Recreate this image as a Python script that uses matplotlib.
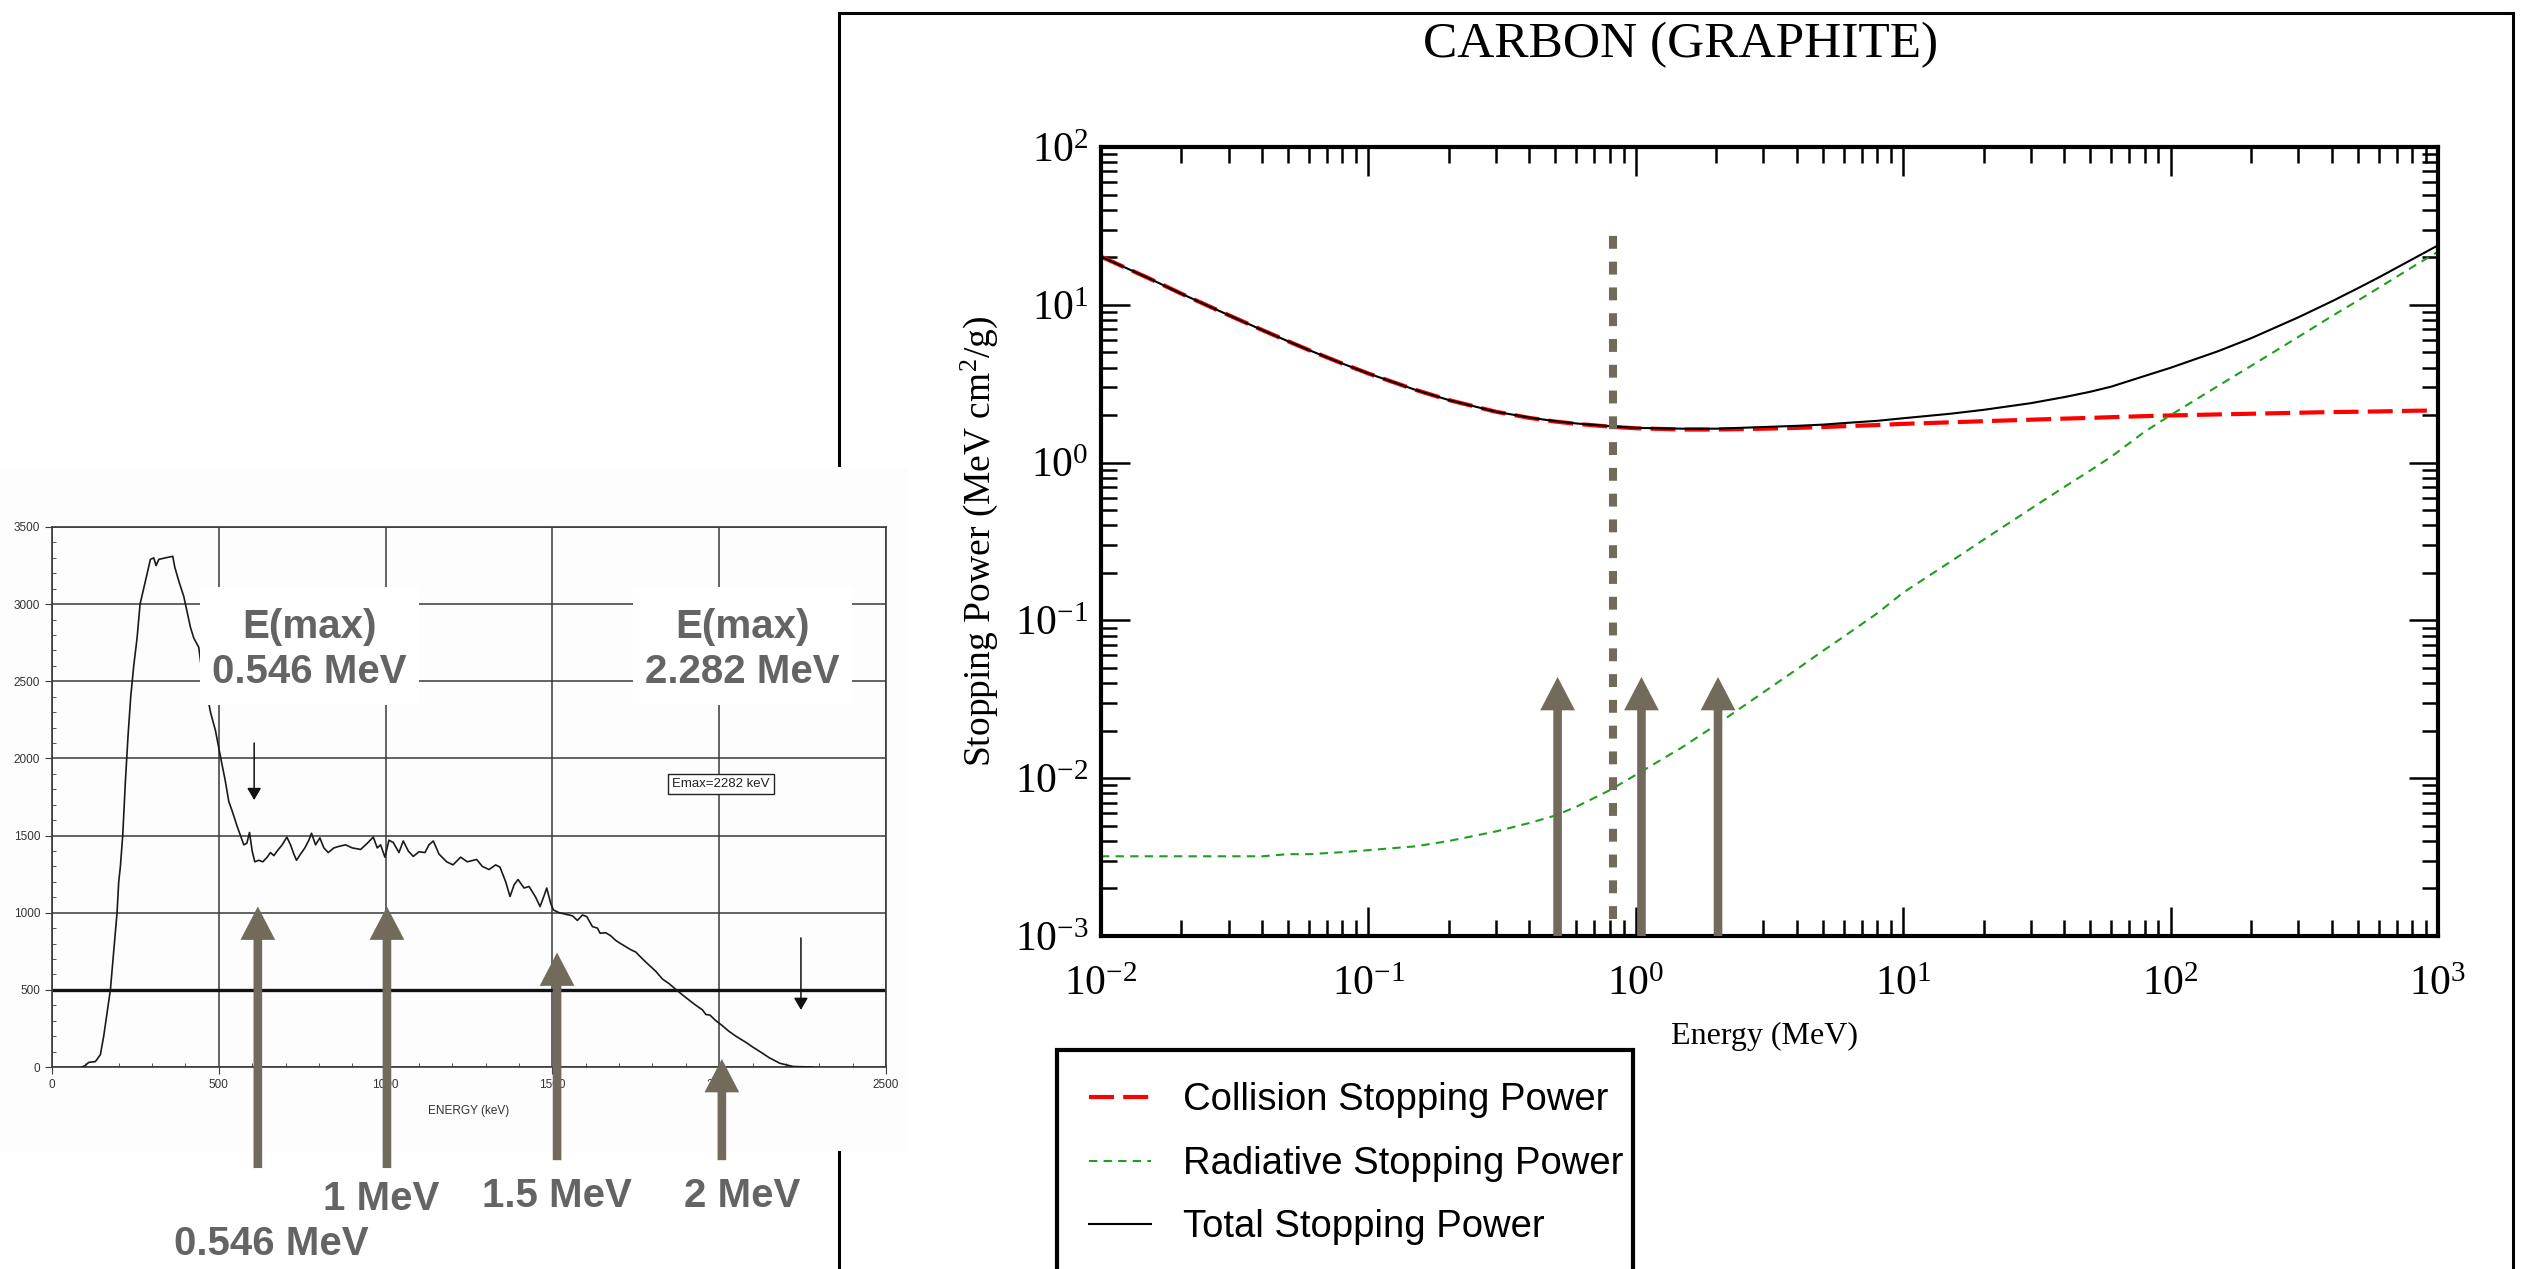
import matplotlib
matplotlib.use('Agg')
import matplotlib.pyplot as plt
from matplotlib.lines import Line2D
from matplotlib.patches import Rectangle
from matplotlib.ticker import LogLocator, NullFormatter, MultipleLocator

plt.rcParams['mathtext.fontset'] = 'custom'
plt.rcParams['mathtext.rm'] = 'Liberation Serif'
plt.rcParams['mathtext.it'] = 'Liberation Serif:italic'

W, H = 2523, 1269
ARROW = '#726b5c'
LABEL = '#646464'
SCAN = '#3a3a3a'

# ---- left panel: scanned beta spectrum (counts vs keV) ----
spec_kev = [90, 100, 110, 130, 145, 155, 165, 175, 185, 195, 200, 205, 212, 220, 228, 236, 245,
            255, 264, 280, 295, 305, 312, 320, 340, 362, 368, 380, 395, 402, 415, 425, 440, 450,
            462, 475, 490, 506, 519, 530, 540, 555, 565, 575, 584, 592, 600, 608, 620, 632, 645,
            655, 665, 675, 690, 704, 715, 725, 733, 745, 758, 770, 778, 790, 803, 815, 828, 845,
            860, 880, 900, 925, 945, 963, 975, 985, 998, 1010, 1023, 1040, 1053, 1068, 1083, 1100,
            1118, 1130, 1143, 1160, 1183, 1202, 1225, 1245, 1273, 1290, 1310, 1330, 1343, 1360,
            1373, 1385, 1397, 1415, 1430, 1450, 1463, 1475, 1483, 1495, 1503, 1520, 1540, 1560,
            1575, 1590, 1603, 1620, 1635, 1643, 1660, 1675, 1690, 1703, 1720, 1735, 1750, 1763,
            1780, 1795, 1810, 1830, 1850, 1872, 1900, 1930, 1950, 1960, 1972, 1990, 2007, 2030,
            2052, 2080, 2100, 2122, 2150, 2182, 2222, 2280]
spec_counts = [0, 10, 30, 35, 80, 200, 350, 500, 750, 1000, 1200, 1300, 1500, 1850, 2150, 2400, 2600,
               2780, 3000, 3150, 3290, 3300, 3250, 3290, 3300, 3310, 3240, 3150, 3050, 2980, 2850, 2780,
               2720, 2550, 2450, 2300, 2180, 2000, 1860, 1720, 1660, 1560, 1500, 1440, 1450, 1520, 1400,
               1330, 1340, 1330, 1360, 1390, 1370, 1400, 1440, 1490, 1440, 1380, 1340, 1380, 1420, 1470,
               1515, 1440, 1485, 1420, 1390, 1420, 1430, 1440, 1420, 1410, 1450, 1490, 1420, 1440, 1360,
               1470, 1455, 1390, 1465, 1400, 1365, 1395, 1390, 1440, 1465, 1380, 1330, 1310, 1360, 1330,
               1345, 1300, 1280, 1310, 1295, 1200, 1105, 1180, 1215, 1160, 1170, 1100, 1040, 1110, 1160,
               1060, 1018, 1000, 990, 980, 950, 985, 975, 910, 900, 867, 870, 850, 820, 802, 780, 760,
               745, 716, 680, 650, 620, 570, 540, 499, 450, 400, 370, 340, 337, 300, 272, 230, 197, 160,
               130, 100, 60, 24, 3, 0]

emax_arrow_kev = [606, 2245]
emax_arrow_top = [2100, 837]
emax_arrow_bottom = [1730, 370]

mark_kev = [617, 1004, 1514, 2008]
mark_tip = [1040, 1040, 742, 52]
mark_base = [-655, -655, -604, -604]
mark_labels = ['0.546 MeV', '1 MeV', '1.5 MeV', '2 MeV']
mark_label_kev = [656, 986, 1514, 2068]
mark_label_y = [-1149, -857, -837, -837]

# ---- right panel: carbon (graphite) stopping power ----
energy_mev = [0.01, 0.015, 0.02, 0.03, 0.04, 0.05, 0.06, 0.08, 0.1, 0.15, 0.2, 0.3, 0.4, 0.5, 0.6,
              0.8, 1, 1.5, 2, 3, 4, 5, 6, 8, 10, 15, 20, 30, 40, 50, 60, 80, 100, 150, 200, 300,
              400, 500, 600, 800, 1000]
collision = [20.2, 14.8, 11.75, 8.6, 6.93, 5.88, 5.16, 4.24, 3.67, 2.89, 2.49, 2.10, 1.92, 1.82, 1.76,
             1.69, 1.65, 1.62, 1.62, 1.64, 1.66, 1.68, 1.70, 1.73, 1.76, 1.80, 1.83, 1.87, 1.90, 1.92,
             1.94, 1.97, 1.99, 2.02, 2.04, 2.07, 2.09, 2.10, 2.11, 2.13, 2.14]
radiative = [0.0032, 0.0032, 0.0032, 0.0032, 0.0032, 0.0033, 0.0033, 0.0034, 0.0035, 0.0037, 0.0040,
             0.0046, 0.0052, 0.0058, 0.0066, 0.0084, 0.0105, 0.0158, 0.0218, 0.035, 0.049, 0.064,
             0.079, 0.111, 0.150, 0.235, 0.325, 0.51, 0.70, 0.89, 1.09, 1.57, 2.00, 3.05, 4.10, 6.25,
             8.45, 10.6, 12.8, 17.3, 21.7]
total = [20.2, 14.8, 11.75, 8.6, 6.93, 5.88, 5.16, 4.24, 3.67, 2.89, 2.49, 2.10, 1.93, 1.83, 1.77,
         1.70, 1.66, 1.64, 1.64, 1.68, 1.71, 1.74, 1.78, 1.84, 1.91, 2.04, 2.16, 2.38, 2.60, 2.81,
         3.03, 3.54, 3.99, 5.07, 6.14, 8.32, 10.5, 12.7, 14.9, 19.4, 23.8]

right_mark_mev = [0.51, 1.05, 2.03]
right_mark_tip = 0.0438
cut_mev = 0.82
cut_range = [0.00128, 28.5]


def px_axes(fig, l, t, r, b):
    return fig.add_axes([l / W, 1 - b / H, (r - l) / W, (b - t) / H])


def big_arrow(ax, x, y0, y1):
    ax.annotate('', xy=(x, y1), xytext=(x, y0), annotation_clip=False,
                arrowprops=dict(arrowstyle='simple,head_length=2.4,head_width=2.5,tail_width=0.62',
                                mutation_scale=10, fc=ARROW, ec='none', shrinkA=0, shrinkB=0))


fig = plt.figure(figsize=(W / 100, H / 100), dpi=100)

# outer frame of the right picture, partly hidden by the scan
for xs, ys in [([839, 839], [13, H]), ([839, 2513], [13, 13]), ([2513, 2513], [13, H])]:
    fig.add_artist(Line2D([x / W for x in xs], [1 - y / H for y in ys], color='black', lw=2.2,
                          zorder=-2))
fig.add_artist(Rectangle((0, 1 - 1151 / H), 908 / W, (1151 - 467) / H, transform=fig.transFigure,
                         fc='#fdfdfd', ec='none', zorder=-1))

# ---- left scan ----
axl = px_axes(fig, 52, 527, 886, 1067)
axl.set_facecolor('none')
axl.plot(spec_kev, spec_counts, color='#1a1a1a', lw=1.2, zorder=3)
axl.set_xlim(0, 2500)
axl.set_ylim(0, 3500)
axl.set_xticks(range(0, 2501, 500))
axl.set_yticks(range(0, 3501, 500))
axl.xaxis.set_minor_locator(MultipleLocator(100))
axl.yaxis.set_minor_locator(MultipleLocator(100))
axl.grid(True, which='major', color=SCAN, lw=1.1, zorder=1)
axl.axhline(500, color='#111111', lw=2.4, zorder=2)
for s in axl.spines.values():
    s.set_color(SCAN)
    s.set_linewidth(1.2)
axl.tick_params(which='major', direction='out', length=5, color=SCAN, labelsize=8.5,
                labelcolor='#333333', labelfontfamily='Liberation Sans')
axl.tick_params(which='minor', direction='in', length=3, color=SCAN)
axl.set_xlabel('ENERGY (keV)', fontsize=8.5, family='Liberation Sans', color='#333333', labelpad=10)

for x, y0, y1 in zip(emax_arrow_kev, emax_arrow_top, emax_arrow_bottom):
    axl.annotate('', xy=(x, y1), xytext=(x, y0),
                 arrowprops=dict(arrowstyle='-|>,head_length=0.6,head_width=0.35', mutation_scale=12,
                                 color='#111111', lw=1.1, shrinkA=0, shrinkB=0), zorder=4)
axl.text(2005, 1833, 'Emax=2282 keV', ha='center', va='center', fontsize=9.5,
         family='Liberation Sans', color='#222222', zorder=4,
         bbox=dict(boxstyle='square,pad=0.3', fc='white', ec='#222222', lw=1))

for x0, text in [(444, '0.546 MeV'), (1742, '2.282 MeV')]:
    axl.add_patch(Rectangle((x0, 2349), 655, 759, fc='white', ec='none', zorder=5))
    axl.text(x0 + 327, 2855, 'E(max)', ha='center', va='center', fontsize=29, fontweight='bold',
             family='Liberation Sans', color=LABEL, zorder=6)
    axl.text(x0 + 327, 2563, text, ha='center', va='center', fontsize=29, fontweight='bold',
             family='Liberation Sans', color=LABEL, zorder=6)

for x, tip, base in zip(mark_kev, mark_tip, mark_base):
    big_arrow(axl, x, base, tip)
for x, y, text in zip(mark_label_kev, mark_label_y, mark_labels):
    axl.text(x, y, text, ha='center', va='center', fontsize=29, fontweight='bold',
             family='Liberation Sans', color=LABEL)

# ---- right chart ----
axr = px_axes(fig, 1101, 147, 2438, 936)
axr.set_xscale('log')
axr.set_yscale('log')
axr.set_xlim(1e-2, 1e3)
axr.set_ylim(1e-3, 1e2)
axr.plot(energy_mev, collision, color='red', lw=3, linestyle=(0, (6, 2.2)),
         label='Collision Stopping Power')
axr.plot(energy_mev, radiative, color='#1f9e1f', lw=1.5, linestyle=(0, (4, 3)),
         label='Radiative Stopping Power')
axr.plot(energy_mev, total, color='black', lw=1.5, label='Total Stopping Power')

axr.plot([cut_mev, cut_mev], cut_range, color=ARROW, lw=5.8, linestyle=(0, (1.6, 1.6)))
for x in right_mark_mev:
    big_arrow(axr, x, 1e-3, right_mark_tip)

for a in (axr.xaxis, axr.yaxis):
    a.set_major_locator(LogLocator(base=10, numticks=10))
    a.set_minor_locator(LogLocator(base=10, subs=range(2, 10), numticks=20))
    a.set_minor_formatter(NullFormatter())
for s in axr.spines.values():
    s.set_linewidth(3)
axr.tick_params(which='both', direction='in', top=True, right=True, width=1.8)
axr.tick_params(which='major', length=21, labelsize=30, labelfontfamily='Liberation Serif')
axr.tick_params(which='minor', length=11.5)
axr.tick_params(axis='x', which='major', pad=21)
axr.tick_params(axis='y', which='major', pad=9)

axr.set_xlabel('Energy (MeV)', fontsize=23, family='Liberation Serif')
axr.xaxis.set_label_coords(0.496, -0.109)
axr.set_ylabel('Stopping Power (MeV cm$^2$/g)', fontsize=27, family='Liberation Serif')
axr.yaxis.set_label_coords(-0.0755, 0.5)

# legend entries without frame; the frame runs off the bottom edge, so it is drawn by hand
axr.legend(loc='upper left', bbox_to_anchor=(1057 / W, 1 - 1050 / H),
           bbox_transform=fig.transFigure, frameon=False,
           prop={'family': 'Liberation Sans', 'size': 27.5},
           borderpad=0.85, labelspacing=0.72, handlelength=1.6, handletextpad=0.85,
           borderaxespad=0)
fig.add_artist(Rectangle((1057 / W, -0.05), (1633 - 1057) / W, 0.05 + 1 - 1050 / H,
                         transform=fig.transFigure, fc='none', ec='black', lw=3))

fig.text(1681 / W, 1 - 45 / H, 'CARBON (GRAPHITE)', ha='center', va='center', fontsize=37,
         family='Liberation Serif')

fig.savefig('out.png', dpi=100)
